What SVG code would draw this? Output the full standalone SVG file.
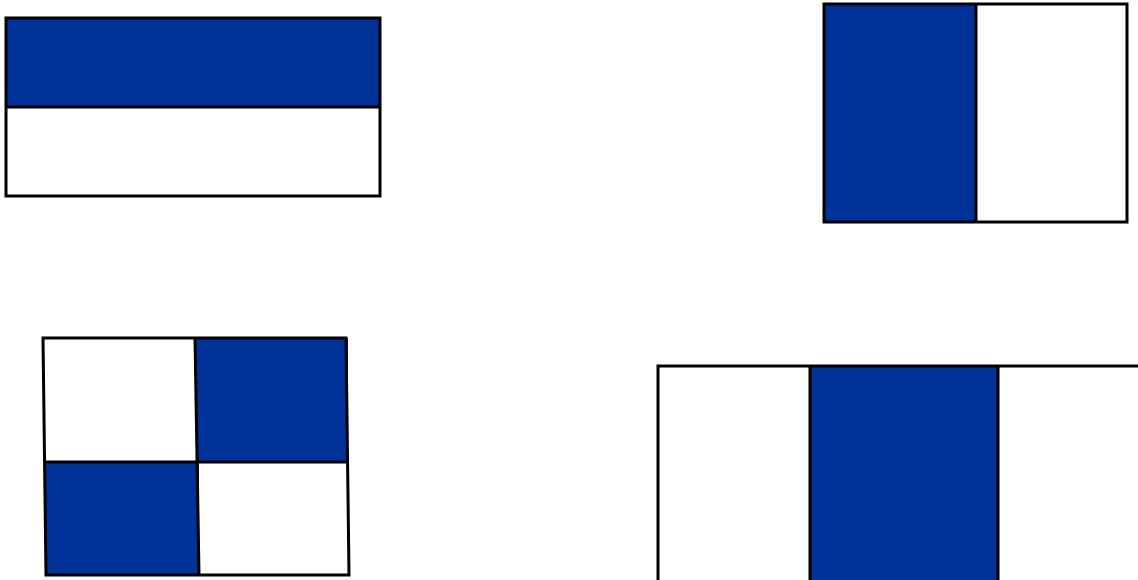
<svg xmlns="http://www.w3.org/2000/svg" width="1138" height="580" viewBox="0 0 1138 580">
<style>
.b{fill:#003399}
.w{fill:#ffffff}
.l{stroke:#000;stroke-width:3;fill:none}
</style>
<rect width="1138" height="580" fill="#fff"/>
<g id="flag1">
<rect class="b" x="6" y="18" width="374" height="89"/>
<rect class="w" x="6" y="107" width="374" height="89"/>
<rect class="l" x="6" y="18" width="374" height="178"/>
<line class="l" x1="6" y1="107" x2="380" y2="107"/>
</g>
<g id="flag2">
<rect class="b" x="824" y="4" width="152" height="218"/>
<rect class="w" x="976" y="4" width="151" height="218"/>
<rect class="l" x="824" y="4" width="303" height="218"/>
<line class="l" x1="976" y1="4" x2="976" y2="222"/>
</g>
<g id="flag3">
<rect class="w" x="43" y="338" width="153" height="124"/>
<rect class="b" x="196" y="338" width="152" height="124"/>
<rect class="b" x="45" y="462" width="154" height="113"/>
<rect class="w" x="199" y="462" width="150" height="113"/>
<path class="l" d="M43 338 L346 338 L349 575 L46 575 Z"/>
<line class="l" x1="44" y1="462" x2="348" y2="462"/>
<line class="l" x1="195" y1="338" x2="199" y2="575"/>
</g>
<g id="flag4">
<rect class="b" x="810" y="366" width="188" height="214"/>
<path class="l" d="M658 580 L658 366 L1138 366"/>
<line class="l" x1="810" y1="366" x2="810" y2="580"/>
<line class="l" x1="998" y1="366" x2="998" y2="580"/>
</g>
</svg>
